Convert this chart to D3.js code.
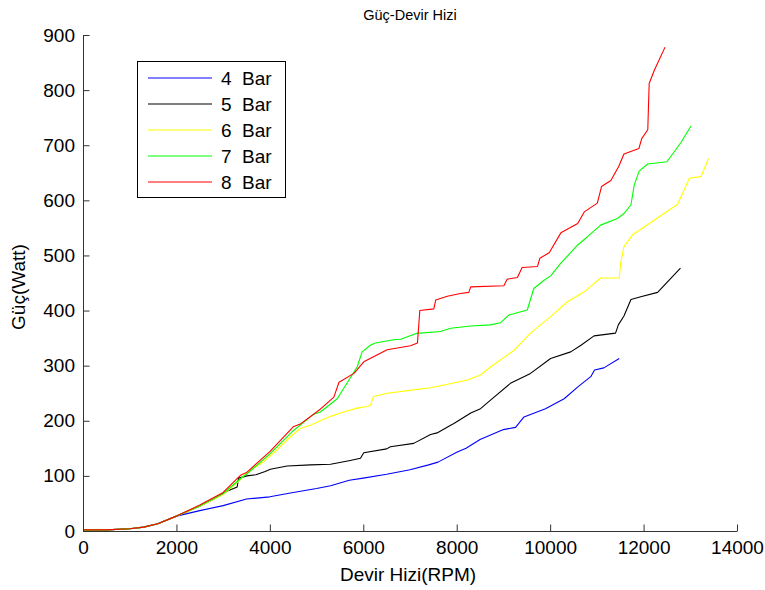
<!DOCTYPE html>
<html>
<head>
<meta charset="utf-8">
<script src="https://cdn.jsdelivr.net/npm/d3@7"></script>
<style>
  html, body { margin: 0; padding: 0; background: #fff; }
  svg { display: block; font-family: "Liberation Sans", Arial, sans-serif; }
</style>
</head>
<body>
<svg id="chart" width="765" height="590"></svg>
<script>
// ---- Data ----
const seriesNames = ["4  Bar", "5  Bar", "6  Bar", "7  Bar", "8  Bar"];
const seriesColors = ["#0000ff", "#000000", "#ffff00", "#00ff00", "#ff0000"];

const rpm4 = [0,500,1000,1300,1600,2000,2500,3000,3500,4000,4500,5000,5300,5700,6000,6500,7000,7400,7600,8000,8200,8500,9000,9260,9440,9900,10300,10600,10870,10950,11150,11480];
const watt4 = [2,2,4,7,13,27,37,46,58,62,70,77,82,92,96,103,111,120,125,143,150,166,184,188,207,222,240,262,280,292,296,313];

const rpm5 = [0,500,1000,1300,1600,2000,2500,2800,3080,3300,3330,3510,3700,3900,4010,4370,4870,5300,5720,5940,6010,6500,6580,7080,7440,7580,7870,7940,8300,8510,8730,9150,9580,10010,10440,10660,10940,11400,11460,11580,11730,11940,12300,12790];
const watt5 = [2,2,4,7,13,27,45,58,72,80,96,100,102,108,112,118,120,121,128,132,142,149,153,159,175,178,192,195,214,222,238,268,286,313,325,337,354,359,374,390,420,425,433,477];

const rpm6 = [0,500,1000,1300,1600,2000,2500,3000,3330,3510,3870,4150,4440,4650,4870,5080,5300,5580,5870,6080,6150,6220,6510,7080,7440,7730,8230,8510,8730,9230,9580,10010,10370,10730,11080,11480,11510,11580,11760,12730,12980,13230,13390];
const watt6 = [2,2,4,7,13,27,45,66,90,106,126,147,171,186,192,200,208,216,223,226,228,244,250,256,260,265,274,283,298,328,359,389,416,434,459,459,486,516,537,593,640,643,676];

const rpm7 = [0,500,1000,1300,1600,2000,2500,3000,3400,3500,4000,4500,4940,5080,5370,5440,5650,5870,5975,6150,6260,6650,6800,7150,7225,7650,7870,8300,8720,8940,9120,9510,9650,9870,10010,10230,10590,10800,11080,11440,11580,11730,11800,11906,12085,12500,12800,13014];
const watt7 = [2,2,4,7,13,27,46,68,97,103,140,182,212,216,235,240,268,298,325,337,341,347,348,359,359,362,368,372,374,378,392,401,440,455,463,486,519,534,555,567,576,592,628,653,666,670,705,735];

const rpm8 = [0,500,1000,1300,1600,2000,2500,3000,3370,3500,4000,4500,4650,5080,5370,5480,5800,6010,6220,6510,7010,7160,7210,7510,7550,7800,8080,8260,8300,9010,9080,9300,9400,9730,9780,9980,10230,10590,10730,11010,11100,11300,11470,11580,11900,11960,12090,12120,12230,12460];
const watt8 = [2,2,4,7,13,27,47,70,101,106,144,189,194,221,243,270,286,307,316,329,336,341,400,403,419,426,431,433,443,445,457,460,478,480,495,505,541,558,579,595,625,636,662,684,694,712,728,812,836,878];

const xTicks = [0,2000,4000,6000,8000,10000,12000,14000];
const yTicks = [0,100,200,300,400,500,600,700,800,900];
const titleText = "Güç-Devir Hizi";
const xLabel = "Devir Hizi(RPM)";
const yLabel = "Güç(Watt)";

// ---- Layout ----
const svg = d3.select("#chart");
const mLeft = 83, mRight = 737, mTop = 35, mBottom = 531;
const fontSize = 19;

const x = d3.scaleLinear().domain([0, 14000]).range([mLeft, mRight]);
const y = d3.scaleLinear().domain([0, 900]).range([mBottom, mTop]);

const series = [
  {rpm: rpm4, watt: watt4},
  {rpm: rpm5, watt: watt5},
  {rpm: rpm6, watt: watt6},
  {rpm: rpm7, watt: watt7},
  {rpm: rpm8, watt: watt8}
].map((s, i) => ({
  name: seriesNames[i],
  color: seriesColors[i],
  points: s.rpm.map((r, j) => [r, s.watt[j]])
}));

// Lines
const line = d3.line().x(d => x(d[0])).y(d => y(d[1]));
svg.append("g").selectAll("path").data(series).join("path")
  .attr("d", d => line(d.points))
  .attr("fill", "none")
  .attr("stroke", d => d.color)
  .attr("stroke-width", 1.1)
  .attr("stroke-linejoin", "round");

// Axes
const axisColor = "#333";
const xAxis = svg.append("g")
  .attr("transform", `translate(0,${mBottom})`)
  .call(d3.axisBottom(x).tickValues(xTicks).tickFormat(d3.format("d"))
    .tickSizeInner(-6.5).tickSizeOuter(0).tickPadding(10));
const yAxis = svg.append("g")
  .attr("transform", `translate(${mLeft},0)`)
  .call(d3.axisLeft(y).tickValues(yTicks).tickFormat(d3.format("d"))
    .tickSizeInner(-6.5).tickSizeOuter(0).tickPadding(8));

[xAxis, yAxis].forEach(g => {
  g.select(".domain").attr("stroke", axisColor).attr("stroke-width", 1);
  g.selectAll(".tick line").attr("stroke", axisColor).attr("stroke-width", 1);
  g.selectAll(".tick text").attr("fill", "#000").attr("font-size", fontSize)
    .attr("font-family", "'Liberation Sans', Arial, sans-serif");
});

// Title and axis labels
svg.append("text").attr("x", 410).attr("y", 20).attr("text-anchor", "middle")
  .attr("font-size", 14.5).text(titleText);
svg.append("text").attr("x", 408).attr("y", 581).attr("text-anchor", "middle")
  .attr("font-size", fontSize).text(xLabel);
svg.append("text").attr("transform", `translate(25,${(mTop + mBottom) / 2 + 4}) rotate(-90)`)
  .attr("text-anchor", "middle").attr("font-size", fontSize).text(yLabel);

// Legend
const lg = svg.append("g");
lg.append("rect").attr("x", 137.5).attr("y", 61.5).attr("width", 148).attr("height", 136)
  .attr("fill", "#fff").attr("stroke", "#000").attr("stroke-width", 1);
const rowY = d3.scalePoint().domain(seriesNames).range([78, 182]);
const rows = lg.selectAll("g.row").data(series).join("g").attr("class", "row")
  .attr("transform", d => `translate(0,${rowY(d.name)})`);
rows.append("line").attr("x1", 148).attr("x2", 212).attr("y1", 0).attr("y2", 0)
  .attr("stroke", d => d.color).attr("stroke-width", 1.1);
rows.append("text").attr("x", 221).attr("y", 7).attr("font-size", fontSize)
  .style("white-space", "pre").attr("xml:space", "preserve").text(d => d.name);
</script>
</body>
</html>
